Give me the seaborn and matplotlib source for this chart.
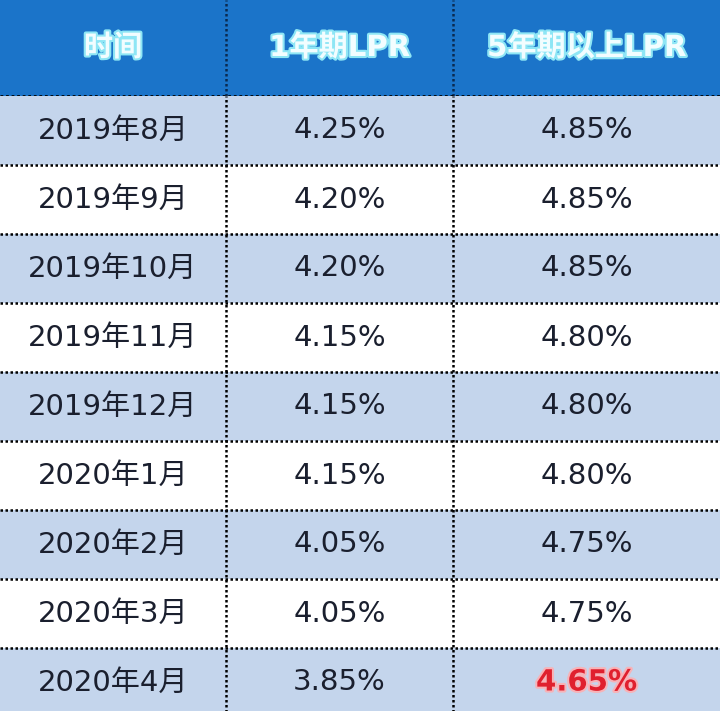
import numpy as np
import pandas as pd
import matplotlib
matplotlib.use("Agg")
import matplotlib.pyplot as plt
from matplotlib.colors import ListedColormap
import matplotlib.patheffects as pe
import seaborn as sns

headers = ["时间", "1年期LPR", "5年期以上LPR"]
months = ["2019年8月", "2019年9月", "2019年10月", "2019年11月", "2019年12月",
          "2020年1月", "2020年2月", "2020年3月", "2020年4月"]
lpr_1y = [4.25, 4.20, 4.20, 4.15, 4.15, 4.15, 4.05, 4.05, 3.85]
lpr_5y = [4.85, 4.85, 4.85, 4.80, 4.80, 4.80, 4.75, 4.75, 4.65]

sns.set_theme(style="white")
FONT = ["DejaVu Sans", "Noto Sans CJK SC"]
plt.rcParams["font.family"] = FONT

W, H = 720, 711
fig = plt.figure(figsize=(W / 100, H / 100), dpi=100)

col_edges = [0, 226, 453, 720]
header_h = 96
row_h = 69
n = len(months)
body_h = row_h * n

BLUE = "#1B74C9"
LIGHT = "#C4D5EC"
WHITE = "#FFFFFF"
TXT = "#1A1F2E"

# body: stripe pattern as heatmap
stripe = pd.DataFrame({"bg": [i % 2 for i in range(n)]}, index=months)
ax = fig.add_axes([0, (H - header_h - body_h) / H, 1, body_h / H])
sns.heatmap(stripe, ax=ax, cmap=ListedColormap([LIGHT, WHITE]), vmin=0, vmax=1,
            cbar=False, xticklabels=False, yticklabels=False, linewidths=0)
ax.set_xlim(0, W)
ax.set_xlabel("")
ax.set_ylabel("")
# heatmap x coords are 0..1; rescale by drawing in axes fraction instead
ax.set_xlim(0, 1)

centers = [(col_edges[i] + col_edges[i + 1]) / 2 / W for i in range(3)]
for i in range(n):
    y = i + 0.5
    ax.text(centers[0], y, months[i], ha="center", va="center", fontsize=21,
            color=TXT, family=FONT)
    ax.text(centers[1], y, f"{lpr_1y[i]:.2f}%", ha="center", va="center",
            fontsize=21, color=TXT, family=FONT)
    if i == n - 1:
        ax.text(centers[2], y, f"{lpr_5y[i]:.2f}%", ha="center", va="center",
                fontsize=21, color="#E0202E", fontweight="bold", family=FONT,
                path_effects=[pe.withStroke(linewidth=3, foreground="#F7B3B8")])
    else:
        ax.text(centers[2], y, f"{lpr_5y[i]:.2f}%", ha="center", va="center",
                fontsize=21, color=TXT, family=FONT)

dot = (0, (1, 1))
for i in range(1, n + 1):
    ax.axhline(i, color="black", lw=1.8, linestyle=dot)
for xe in col_edges[1:3]:
    ax.axvline(xe / W, color="black", lw=1.8, linestyle=dot)
for s in ax.spines.values():
    s.set_visible(False)

# header
hax = fig.add_axes([0, (H - header_h) / H, 1, header_h / H])
hax.set_facecolor(BLUE)
hax.set_xlim(0, 1)
hax.set_ylim(0, 1)
hax.set_xticks([])
hax.set_yticks([])
for s in hax.spines.values():
    s.set_visible(False)
for c, t in zip(centers, headers):
    hax.text(c, 0.5, t, ha="center", va="center", fontsize=21, fontweight="bold",
             color="#F2FDFF", family=FONT,
             path_effects=[pe.withStroke(linewidth=3, foreground="#8EE6F5")])
for xe in col_edges[1:3]:
    hax.axvline(xe / W, color="#0A2A50", lw=1.8, linestyle=dot)
hax.axhline(0, color="black", lw=2, linestyle=dot)

fig.savefig("out.png", dpi=100)
